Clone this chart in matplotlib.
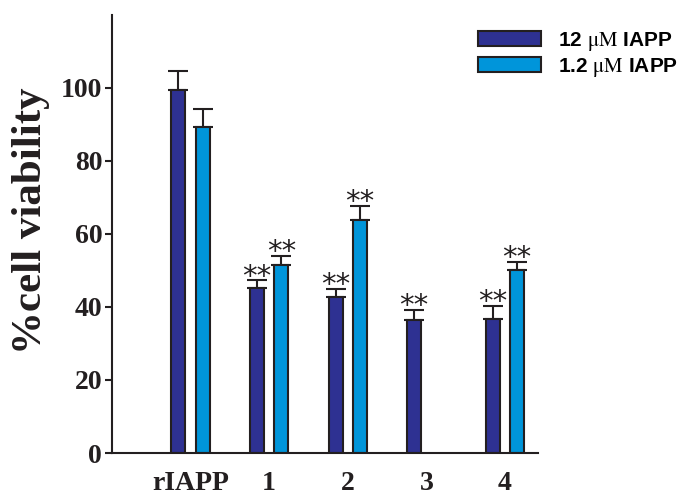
import numpy as np
import matplotlib
matplotlib.use("Agg")
import matplotlib.pyplot as plt
from matplotlib.patches import Patch

# data
groups = ["rIAPP", "1", "2", "3", "4"]
viab_12uM = [99.5, 45.2, 42.6, 36.4, 36.7]
err_12uM = [5.2, 2.1, 2.4, 2.7, 3.5]
viab_1p2uM = [89.3, 51.6, 63.9, np.nan, 50.2]
err_1p2uM = [4.8, 2.3, 3.8, np.nan, 2.2]
sig_12uM = ["", "**", "**", "**", "**"]
sig_1p2uM = ["", "**", "**", "", "**"]

dark = "#2e3192"
light = "#0095da"
edge = "#231f20"

plt.rcParams['mathtext.fontset'] = 'stix'

fig = plt.figure(figsize=(6.84, 4.97), dpi=100)
ax = fig.add_axes([0.1637, 0.0885, 0.6228, 0.8815])

x = np.arange(len(groups))
w = 0.18
off = 0.155

for xs, vals, errs, col in [(x - off, viab_12uM, err_12uM, dark),
                            (x + off, viab_1p2uM, err_1p2uM, light)]:
    ax.bar(xs, vals, width=w, color=col, edgecolor=edge, linewidth=1.5, zorder=2)
    ax.errorbar(xs, vals, yerr=[np.zeros(len(errs)), errs], fmt="none",
                ecolor=edge, elinewidth=1.5, capsize=7, capthick=1.5, zorder=1)

# significance stars
for xs, vals, errs, sig in [(x - off, viab_12uM, err_12uM, sig_12uM),
                            (x + off, viab_1p2uM, err_1p2uM, sig_1p2uM)]:
    for xi, v, e, s in zip(xs, vals, errs, sig):
        if s:
            ax.text(xi, v + e - 2.8, s, ha="center", va="bottom", fontsize=21,
                    family="DejaVu Sans", color="#231f20")

ax.set_xlim(-1.0, 4.42)
ax.set_ylim(0, 120)
ax.set_yticks([0, 20, 40, 60, 80, 100])
ax.set_xticks(x)
ax.set_xticklabels(groups)

for s in ["top", "right"]:
    ax.spines[s].set_visible(False)
for s in ["left", "bottom"]:
    ax.spines[s].set_linewidth(1.5)
    ax.spines[s].set_color(edge)

ax.tick_params(axis="y", length=5, width=1.5, pad=2, color=edge)
ax.tick_params(axis="x", length=0, pad=13)
for lab in ax.get_yticklabels() + ax.get_xticklabels():
    lab.set_fontfamily("Liberation Serif")
    lab.set_fontweight("bold")
    lab.set_fontsize(20)
    lab.set_color("#231f20")

ax.set_ylabel("%cell viability", fontfamily="Liberation Serif", fontweight="bold",
              fontsize=31, color="#231f20")
ax.yaxis.set_label_coords(-0.145, 0.53)

handles = [Patch(facecolor=dark, edgecolor=edge, linewidth=1.5),
           Patch(facecolor=light, edgecolor=edge, linewidth=1.5)]
labels = [r"12 $\mathrm{\mu M}$ IAPP", r"1.2 $\mathrm{\mu M}$ IAPP"]
fig.legend(handles, labels, loc="upper left", bbox_to_anchor=(0.672, 0.978),
           frameon=False, handlelength=3.0, handleheight=0.7, handletextpad=0.8,
           labelspacing=0.15, prop={"family": "Liberation Sans", "weight": "bold", "size": 15})

fig.savefig("out.png", dpi=100)
